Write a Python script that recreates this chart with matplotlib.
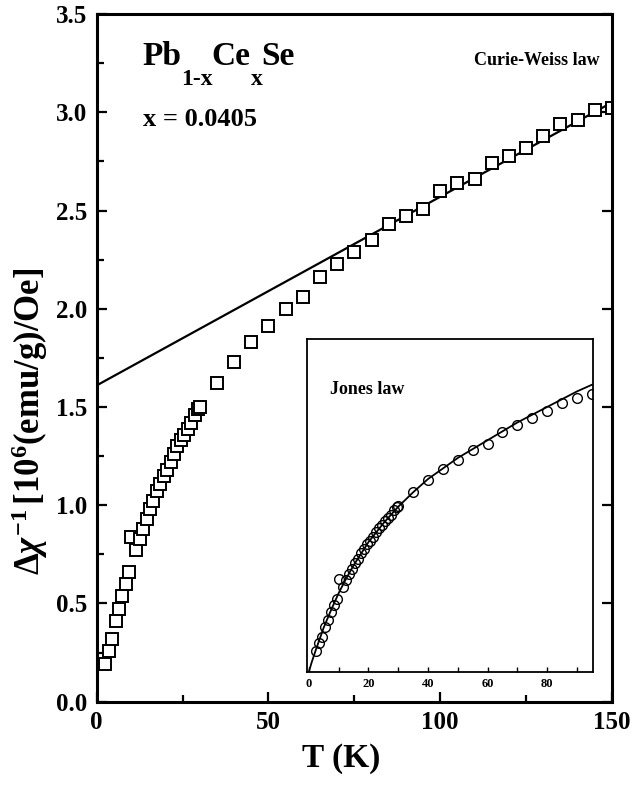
import numpy as np
import matplotlib
matplotlib.use("Agg")
import matplotlib.pyplot as plt
from matplotlib.ticker import MultipleLocator

plt.rcParams['font.family'] = ['Liberation Serif', 'DejaVu Serif']
plt.rcParams['font.weight'] = 'bold'
plt.rcParams['mathtext.fontset'] = 'custom'
plt.rcParams['mathtext.rm'] = 'Liberation Serif'
plt.rcParams['mathtext.it'] = 'Liberation Serif:italic'
plt.rcParams['mathtext.bf'] = 'Liberation Serif:bold'

# measured data: temperature (K) and inverse susceptibility
T = [2.4, 3.5, 4.5, 5.5, 6.5, 7.5, 8.5, 9.5, 10.1, 11.5, 12.5, 13.5, 14.5,
     15.5, 16.5, 17.5, 18.5, 19.5, 20.5, 21.5, 22.5, 23.5, 24.5, 25.5,
     26.5, 27.5, 28.5, 29.5, 30.0,
     35, 40, 45, 50, 55, 60, 65, 70, 75, 80, 85, 90, 95, 100, 105, 110,
     115, 120, 125, 130, 135, 140, 145, 150]
chi_inv = [0.19, 0.26, 0.32, 0.41, 0.47, 0.54, 0.60, 0.66, 0.84, 0.77, 0.83,
           0.88, 0.93, 0.98, 1.02, 1.07, 1.11, 1.15, 1.18, 1.22, 1.26, 1.30,
           1.33, 1.36, 1.39, 1.42, 1.46, 1.49, 1.50,
           1.62, 1.73, 1.83, 1.91, 2.00, 2.06, 2.16, 2.23, 2.29, 2.35, 2.43,
           2.47, 2.51, 2.60, 2.64, 2.66, 2.74, 2.78, 2.82, 2.88, 2.94, 2.96,
           3.01, 3.02]

# Curie-Weiss fit line (end points)
cw_T = [0, 150]
cw_y = [1.61, 3.05]

# Jones law fit curve
jones_T = [0, 1, 2.5, 5, 7.5, 10, 12.5, 15, 20, 25, 30, 35, 40, 50, 60, 70,
           80, 90, 95]
jones_y = [0, 0.09, 0.21, 0.40, 0.56, 0.71, 0.84, 0.96, 1.17, 1.34, 1.49,
           1.62, 1.74, 1.93, 2.09, 2.25, 2.39, 2.53, 2.59]

fig = plt.figure(figsize=(6.33, 7.93), dpi=100)
ax = fig.add_axes([0.1528, 0.1151, 0.8140, 0.8672])

ax.plot(cw_T, cw_y, color='black', lw=1.6)
ax.plot(T, chi_inv, ls='none', marker='s', ms=8, mfc='white',
        mec='black', mew=1.4)

ax.set_xlim(0, 150)
ax.set_ylim(0, 3.5)
ax.xaxis.set_major_locator(MultipleLocator(50))
ax.xaxis.set_minor_locator(MultipleLocator(25))
ax.yaxis.set_major_locator(MultipleLocator(0.5))
ax.yaxis.set_minor_locator(MultipleLocator(0.25))
ax.yaxis.set_major_formatter(plt.FormatStrFormatter('%.1f'))
ax.tick_params(which='both', direction='in', width=1.6, labelsize=18,
               top=False, right=True)
ax.tick_params(which='major', length=7, pad=7)
ax.tick_params(which='minor', length=5, right=False)
for s in ax.spines.values():
    s.set_linewidth(2.2)

ax.set_xlabel('T (K)', fontsize=24, fontweight='bold', labelpad=8)
ax.xaxis.set_label_coords(0.475, -0.06)
ax.set_ylabel(r'$\Delta\chi^{-1}\,[\mathbf{10^{6}(emu/g)/Oe}]$',
              fontsize=25)
ax.yaxis.set_label_coords(-0.09, 0.408)

# formula with hand-placed subscripts
t1 = ax.text(0.089, 0.926, 'Pb', transform=ax.transAxes, fontsize=24,
             fontweight='bold', va='baseline', ha='left')
s1 = ax.annotate('1-x', xy=(1, 0), xycoords=t1, xytext=(0, -9.5),
                 textcoords='offset points', fontsize=17, fontweight='bold',
                 va='baseline')
t2 = ax.annotate('Ce', xy=(1, 0), xycoords=(s1, t1), xytext=(-1, 0),
                 textcoords='offset points', fontsize=24, fontweight='bold',
                 va='bottom')
s2 = ax.annotate('x', xy=(1, 0), xycoords=(t2, t1), xytext=(0, -9.5),
                 textcoords='offset points', fontsize=17, fontweight='bold',
                 va='baseline')
ax.annotate('Se', xy=(1, 0), xycoords=(s2, t1), xytext=(-1, 0),
            textcoords='offset points', fontsize=24, fontweight='bold',
            va='bottom')

ax.text(0.089, 0.846, 'x = 0.0405', transform=ax.transAxes, fontsize=19,
        fontweight='bold', va='center', ha='left')
ax.text(0.854, 0.932, 'Curie-Weiss law', transform=ax.transAxes,
        fontsize=13, fontweight='bold', va='center', ha='center')

# inset
ins = fig.add_axes([0.485, 0.1526, 0.4523, 0.4195])
ins.plot(jones_T, jones_y, color='black', lw=1.3)
ins.plot(T, chi_inv, ls='none', marker='o', ms=7, mfc='none',
         mec='black', mew=1.0)
ins.set_xlim(-0.6, 95.5)
ins.set_ylim(0, 3.0)
ins.xaxis.set_major_locator(MultipleLocator(20))
ins.xaxis.set_minor_locator(MultipleLocator(10))
ins.set_yticks([])
ins.tick_params(which='both', direction='in', length=3.5, width=1.0,
                labelsize=9, pad=4)
for s in ins.spines.values():
    s.set_linewidth(1.3)
ins.text(0.08, 0.85, 'Jones law', transform=ins.transAxes, fontsize=13,
         fontweight='bold', va='center', ha='left')

fig.savefig('out.png', dpi=100)
